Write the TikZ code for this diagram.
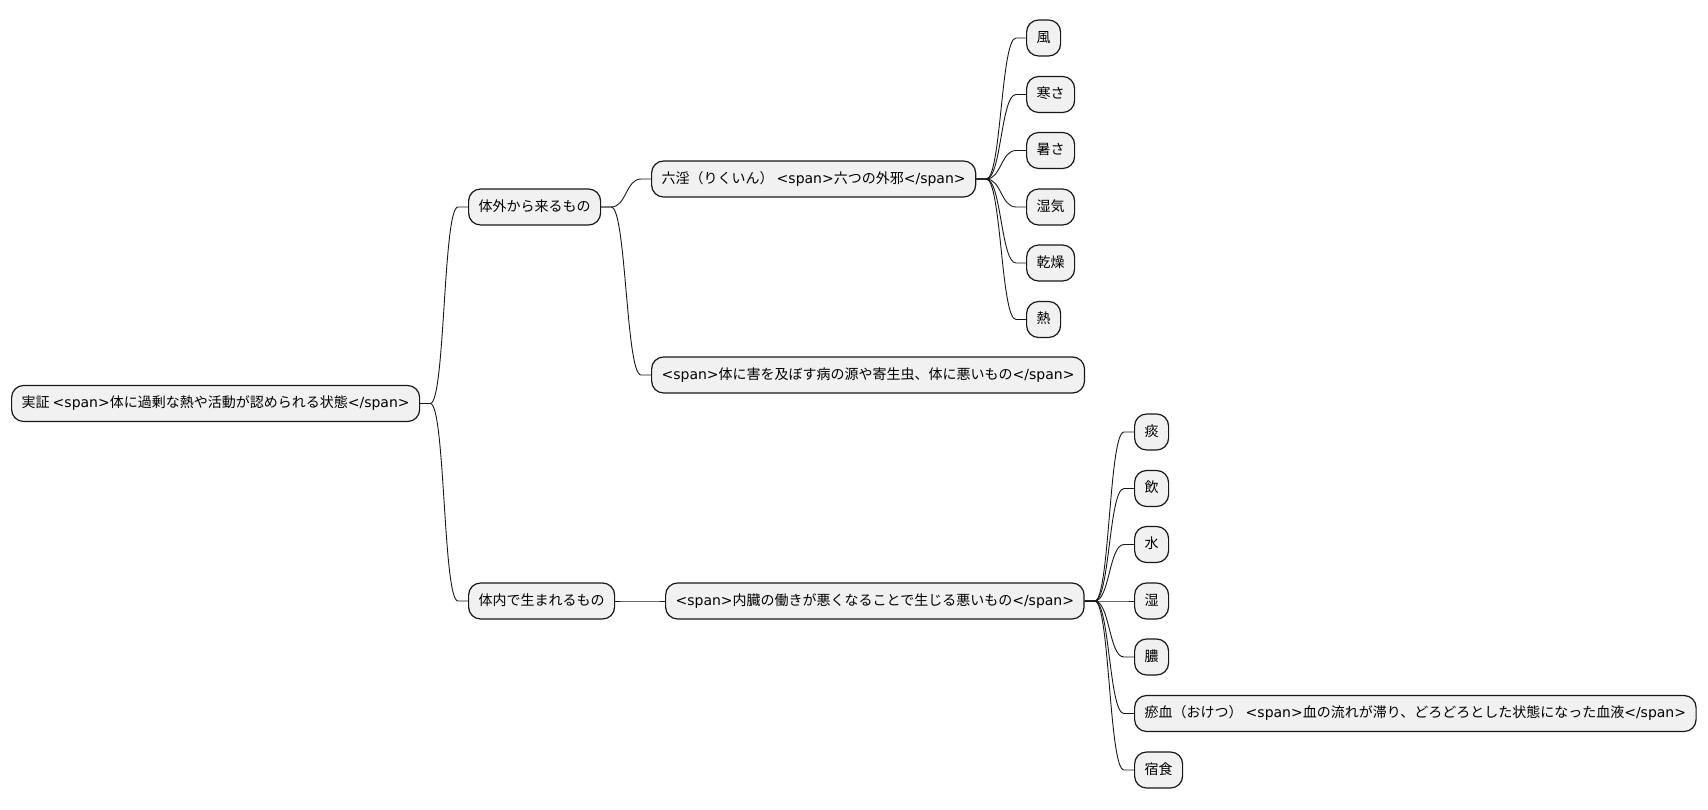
\documentclass[tikz,border=0pt]{standalone}
\usepackage{fontspec}
\setmainfont{DejaVu Sans}
\newfontfamily\jp{Noto Sans CJK JP}
\newfontfamily\dv{DejaVu Sans}
\definecolor{MapFill}{HTML}{F1F1F1}
\definecolor{MapLine}{HTML}{181818}
\newcommand{\spanopen}{{\dv<span>}}
\newcommand{\spanclose}{{\dv</span>}}

\begin{document}
\begin{tikzpicture}[
        x=1pt, y=-1pt,
        font=\fontsize{14}{16}\jp,
        topic/.style={
            draw=MapLine,
            fill=MapFill,
            line width=1.2pt,
            rounded corners=12pt,
            anchor=west,
            minimum height=36pt,
            inner xsep=10pt,
            inner ysep=0pt,
            text height=11pt,
            text depth=3pt
        },
        link/.style={
            draw=MapLine,
            line width=0.9pt,
            to path={-- ++(10pt,0)
                .. controls +(15pt,0) and +(-15pt,0) ..
                ([xshift=-10pt]\tikztotarget) -- (\tikztotarget)}
        }
    ]

    \useasboundingbox[fill=white] (0,0) rectangle (1708,809);

    % Root
    \node[topic] (root) at (11,403.5) {実証 \spanopen 体に過剰な熱や活動が認められる状態\spanclose};

    % Second level
    \node[topic] (outer) at (468,207) {体外から来るもの};
    \node[topic] (inner) at (468,601) {体内で生まれるもの};

    \draw[link] (root.east) to (outer.west);
    \draw[link] (root.east) to (inner.west);

    % From outside the body
    \node[topic] (liuyin) at (651,179) {六淫（りくいん） \spanopen 六つの外邪\spanclose};
    \node[topic] (harm) at (651,375) {\spanopen 体に害を及ぼす病の源や寄生虫、体に悪いもの\spanclose};

    \draw[link] (outer.east) to (liuyin.west);
    \draw[link] (outer.east) to (harm.west);

    % Six external evils
    \node[topic] (e1) at (1026,38) {風};
    \node[topic] (e2) at (1026,94.5) {寒さ};
    \node[topic] (e3) at (1026,150.5) {暑さ};
    \node[topic] (e4) at (1026,207) {湿気};
    \node[topic] (e5) at (1026,263) {乾燥};
    \node[topic] (e6) at (1026,319.5) {熱};

    \draw[link] (liuyin.east) to (e1.west);
    \draw[link] (liuyin.east) to (e2.west);
    \draw[link] (liuyin.east) to (e3.west);
    \draw[link] (liuyin.east) to (e4.west);
    \draw[link] (liuyin.east) to (e5.west);
    \draw[link] (liuyin.east) to (e6.west);

    % From inside the body
    \node[topic] (organ) at (665,601) {\spanopen 内臓の働きが悪くなることで生じる悪いもの\spanclose};

    \draw[link] (inner.east) to (organ.west);

    \node[topic] (i1) at (1134,432) {痰};
    \node[topic] (i2) at (1134,488.5) {飲};
    \node[topic] (i3) at (1134,544.5) {水};
    \node[topic] (i4) at (1134,601) {湿};
    \node[topic] (i5) at (1134,657) {膿};
    \node[topic] (i6) at (1134,713.5) {瘀血（おけつ） \spanopen 血の流れが滞り、どろどろとした状態になった血液\spanclose};
    \node[topic] (i7) at (1134,770) {宿食};

    \draw[link] (organ.east) to (i1.west);
    \draw[link] (organ.east) to (i2.west);
    \draw[link] (organ.east) to (i3.west);
    \draw[link] (organ.east) to (i4.west);
    \draw[link] (organ.east) to (i5.west);
    \draw[link] (organ.east) to (i6.west);
    \draw[link] (organ.east) to (i7.west);

\end{tikzpicture}
\end{document}
